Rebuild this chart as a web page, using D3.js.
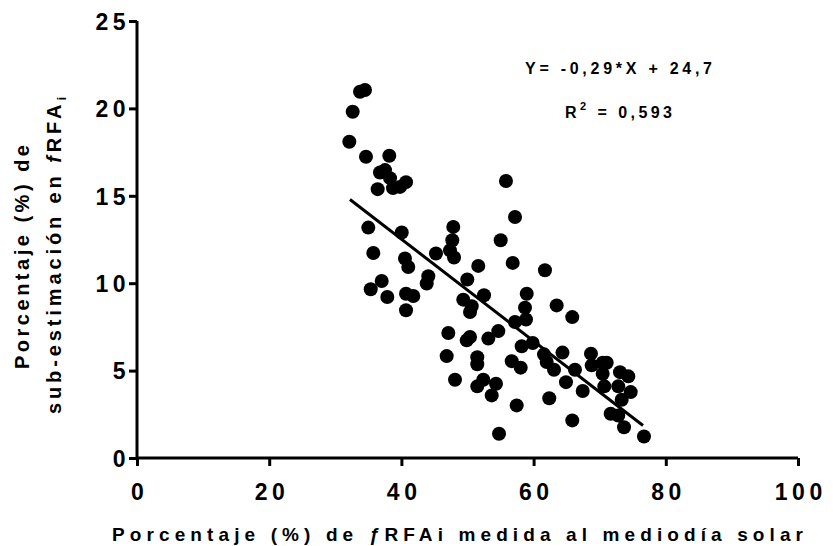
<!DOCTYPE html>
<html><head><meta charset="utf-8">
<script src="https://cdn.jsdelivr.net/npm/d3@7"></script>
<style>
body{margin:0;background:#fff;}
svg text{font-family:"Liberation Sans",Arial,sans-serif;font-weight:bold;fill:#000;}
</style></head>
<body><svg id="c" width="833" height="546"></svg>
<script>
// Measured points: x = % fRFAi medida al mediodía solar, y = % sub-estimación
const xVals = [33.74,34.49,32.63,32.12,34.64,38.17,36.76,37.52,38.28,36.41,38.73,39.79,40.70,
 34.99,40.05,47.85,47.70,47.35,47.96,45.23,35.75,40.54,41.04,51.63,44.07,43.83,49.97,37.02,
 35.36,37.87,40.70,41.80,40.70,49.36,50.64,50.38,52.50,55.82,57.19,55.02,56.84,61.72,58.96,
 58.70,63.49,57.19,58.85,47.10,50.38,49.88,54.66,53.15,58.20,59.86,46.85,51.48,51.48,56.69,
 58.05,61.57,61.98,63.09,48.11,52.39,51.48,54.31,53.66,57.44,62.37,54.77,65.85,64.37,66.26,
 68.68,68.79,70.45,71.06,70.45,73.07,74.33,64.90,70.70,72.81,74.69,67.43,73.33,71.66,72.81,
 73.68,65.85,76.70];
const yVals = [20.95,21.05,19.81,18.09,17.23,17.29,16.33,16.47,16.01,15.38,15.44,15.51,15.78,
 13.18,12.90,13.22,12.46,11.88,11.47,11.70,11.73,11.41,10.93,10.99,10.40,9.98,10.21,10.13,
 9.65,9.21,9.40,9.27,8.45,9.06,8.68,8.35,9.31,15.85,13.79,12.46,11.16,10.74,9.40,
 8.60,8.73,7.78,7.92,7.15,6.92,6.73,7.26,6.83,6.39,6.58,5.83,5.77,5.36,5.54,
 5.17,5.93,5.49,5.05,4.48,4.48,4.10,4.25,3.58,3.01,3.42,1.39,8.06,6.03,5.05,
 5.97,5.30,5.45,5.45,4.82,4.91,4.67,4.34,4.10,4.10,3.77,3.83,3.33,2.53,2.43,
 1.76,2.15,1.23];
// regression line end points (as drawn)
const fitX = [32.22, 76.55];
const fitY = [14.79, 1.86];
const xTicks = [0,20,40,60,80,100];
const yTicks = [0,5,10,15,20,25];
const eqText = "Y= -0,29*X + 24,7";
const r2Value = "0,593";

const svg = d3.select("#c");
const m = {l:137, t:21, r:35, b:88};
const W = 833 - m.l - m.r, H = 546 - m.t - m.b;
const x = d3.scaleLinear().domain([0,100]).range([0,W]);
const y = d3.scaleLinear().domain([0,25]).range([H,0]);
const g = svg.append("g").attr("transform",`translate(${m.l},${m.t})`);

// spread text so that it spans a given width
function fit(sel, target){
  const node = sel.node();
  sel.style("letter-spacing","0px");
  const len = node.getComputedTextLength();
  const n = node.textContent.length;
  const s = (target - len) / (n - 1);
  sel.style("letter-spacing", s + "px");
  return s;
}

const TS = 4.5;
const ax = g.append("g").attr("transform",`translate(0,${H})`)
  .call(d3.axisBottom(x).tickValues(xTicks).tickSize(8).tickPadding(18).tickFormat(d3.format("d")));
const ay = g.append("g")
  .call(d3.axisLeft(y).tickValues(yTicks).tickSize(8).tickPadding(0).tickFormat(d3.format("d")));
[ax,ay].forEach(a=>{
  a.selectAll("path.domain").attr("stroke","#000").attr("stroke-width",3);
  a.selectAll(".tick line").attr("stroke","#000").attr("stroke-width",3);
  a.selectAll(".tick text").style("font-size","23px").style("letter-spacing",TS+"px")
    .style("font-family","'Liberation Sans',Arial,sans-serif").style("font-weight","bold").attr("fill","#000");
});
ax.select("path.domain").attr("d",`M0,0H${W}`);
ax.selectAll(".tick text").attr("dx", TS/2);
ay.select("path.domain").attr("d",`M0,${H+1.5}V0`);
ay.selectAll(".tick text").attr("dy","0.36em").attr("dx", 1);

// points
g.selectAll("circle.pt").data(xVals.map((v,i)=>[v,yVals[i]])).join("circle")
  .attr("class","pt").attr("cx",d=>x(d[0])).attr("cy",d=>y(d[1])).attr("r",7).attr("fill","#000");

// fit line
g.append("line").attr("x1",x(fitX[0])).attr("y1",y(fitY[0]))
  .attr("x2",x(fitX[1])).attr("y2",y(fitY[1])).attr("stroke","#000").attr("stroke-width",3);

// equation
const eq = svg.append("text").attr("x",525).attr("y",74)
  .style("font-size","16px").text(eqText);
fit(eq, 187);
const r2 = svg.append("text").attr("x",565).attr("y",118).style("font-size","16px");
r2.append("tspan").text("R");
r2.append("tspan").attr("dy",-8).style("font-size","11px").text("2");
r2.append("tspan").attr("dy",8).text(" = " + r2Value);
fit(r2, 107);

// x title
const xt = svg.append("text").attr("x",112).attr("y",541)
  .style("font-size","19px");
xt.append("tspan").text("Porcentaje (%) de ");
xt.append("tspan").style("font-style","italic").text("ƒ");
xt.append("tspan").text("RFAi medida al mediodía solar");
fit(xt, 691);

// y title
const yt = svg.append("g").attr("transform","rotate(-90)");
const l1 = yt.append("text").attr("x",-369).attr("y",29).style("font-size","20px").text("Porcentaje (%) de");
fit(l1, 224);
const l2 = yt.append("text").attr("x",-414).attr("y",61).style("font-size","20px");
l2.append("tspan").text("sub-estimación en ");
l2.append("tspan").style("font-style","italic").text("f");
l2.append("tspan").text("RFA");
l2.append("tspan").attr("dy",5).style("font-size","13px").text("i");
fit(l2, 317);
</script></body></html>
